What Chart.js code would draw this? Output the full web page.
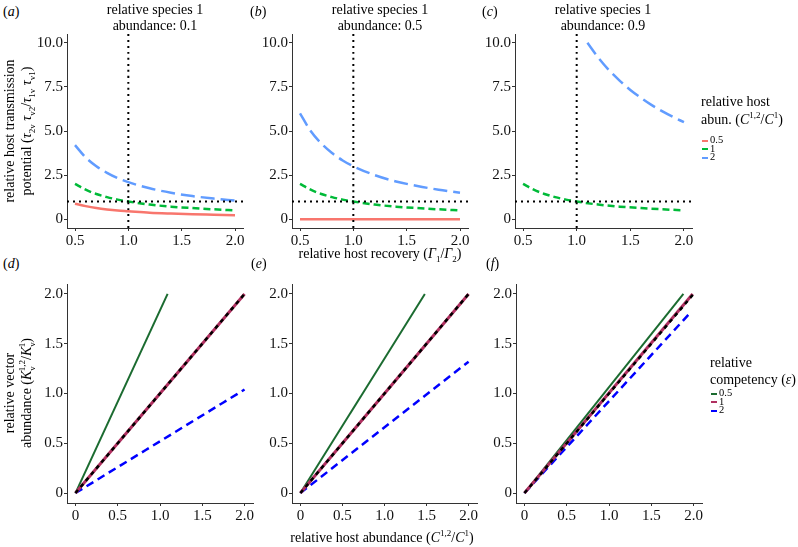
<!DOCTYPE html>
<html>
<head>
<meta charset="utf-8">
<script src="https://cdn.jsdelivr.net/npm/chart.js@4.4.0/dist/chart.umd.min.js"></script>
<style>
body { margin:0; background:#fff; }
#fig { position:relative; width:798px; height:547px; font-family:"Liberation Serif", "DejaVu Serif", serif; color:#000; overflow:hidden; }
#fig canvas { position:absolute; }
.t { position:absolute; white-space:nowrap; font-size:14px; line-height:16px; }
.c { transform:translateX(-50%); text-align:center; }
.rot { transform:translate(-50%,-50%) rotate(-90deg); text-align:center; line-height:17px; }
sub, sup { font-size:9px; line-height:0; }
.lg { position:absolute; white-space:nowrap; font-size:10.5px; line-height:8.5px; }
.key { display:inline-block; width:6px; height:2px; margin-right:2px; vertical-align:middle; }
</style>
</head>
<body>
<div id="fig">
  <canvas id="pa"></canvas><canvas id="pb"></canvas><canvas id="pc"></canvas>
  <canvas id="pd"></canvas><canvas id="pe"></canvas><canvas id="pf"></canvas>

  <div class="t" style="left:3px;top:4px">(<i>a</i>)</div>
  <div class="t" style="left:250px;top:4px">(<i>b</i>)</div>
  <div class="t" style="left:482px;top:4px">(<i>c</i>)</div>
  <div class="t" style="left:3px;top:256px">(<i>d</i>)</div>
  <div class="t" style="left:251px;top:256px">(<i>e</i>)</div>
  <div class="t" style="left:486px;top:256px">(<i>f</i>)</div>

  <div class="t c" style="left:155px;top:2px">relative species 1<br>abundance: 0.1</div>
  <div class="t c" style="left:380px;top:2px">relative species 1<br>abundance: 0.5</div>
  <div class="t c" style="left:603px;top:2px">relative species 1<br>abundance: 0.9</div>

  <div class="t rot" style="left:18px;top:131px">relative host transmission<br>potential (<i>τ</i><sub>2v</sub> <i>τ</i><sub>v2</sub>/<i>τ</i><sub>1v</sub> <i>τ</i><sub>v1</sub>)</div>
  <div class="t rot" style="left:18px;top:393px">relative vector<br>abundance (<i>K</i><sub>v</sub><sup style="margin-left:-5px">1,2</sup>/<i>K</i><sub>v</sub><sup style="margin-left:-5px">1</sup>)</div>

  <div class="t c" style="left:380px;top:246px">relative host recovery (<i>Γ</i><sub>1</sub>/<i>Γ</i><sub>2</sub>)</div>
  <div class="t c" style="left:382px;top:530px">relative host abundance (<i>C</i><sup>1,2</sup>/<i>C</i><sup>1</sup>)</div>

  <div class="t" style="left:701px;top:93px;line-height:18px">relative host<br>abun. (<i>C</i><sup>1,2</sup>/<i>C</i><sup>1</sup>)</div>
  <div class="lg" style="left:702px;top:136px">
    <div><span class="key" style="background:#F8766D"></span>0.5</div>
    <div><span class="key" style="background:#00BA38"></span>1</div>
    <div><span class="key" style="background:#619CFF"></span>2</div>
  </div>
  <div class="t" style="left:710px;top:354px;line-height:17px">relative<br>competency (<i>ε</i>)</div>
  <div class="lg" style="left:711px;top:389px">
    <div><span class="key" style="background:#1B6B30"></span>0.5</div>
    <div><span class="key" style="background:#B03060"></span>1</div>
    <div><span class="key" style="background:#0000FF"></span>2</div>
  </div>
</div>
<script>
// top row: relative host recovery vs transmission potential
const recovery = [0.5, 0.6, 0.7, 0.8, 0.9, 1.0, 1.2, 1.4, 1.6, 1.8, 2.0];
const aLow  = [0.88, 0.74, 0.63, 0.55, 0.49, 0.45, 0.37, 0.32, 0.28, 0.25, 0.22];
const aMid  = [2.0, 1.67, 1.43, 1.25, 1.11, 1.0, 0.83, 0.71, 0.63, 0.56, 0.5];
const aHigh = [4.2, 3.5, 3.0, 2.63, 2.33, 2.1, 1.75, 1.5, 1.31, 1.17, 1.05];
const bLow  = [0, 0, 0, 0, 0, 0, 0, 0, 0, 0, 0];
const bMid  = [2.0, 1.67, 1.43, 1.25, 1.11, 1.0, 0.83, 0.71, 0.63, 0.56, 0.5];
const bHigh = [6.0, 5.0, 4.29, 3.75, 3.33, 3.0, 2.5, 2.14, 1.88, 1.67, 1.5];
const cMid  = [2.0, 1.67, 1.43, 1.25, 1.11, 1.0, 0.83, 0.71, 0.63, 0.56, 0.5];
const cHighX = [1.1, 1.2, 1.3, 1.4, 1.5, 1.6, 1.7, 1.8, 1.9, 2.0];
const cHigh  = [10.0, 9.17, 8.46, 7.86, 7.33, 6.88, 6.47, 6.11, 5.79, 5.5];
const vRefX = [1, 1], vRefY = [-0.5, 10.5];
const hRefX = [0.425, 2.075], hRefY = [1, 1];

// bottom row: host abundance vs vector abundance (line end points)
const dLowX = [0, 1.09], dLowY = [0, 2.0];
const dMidX = [0, 2.0],  dMidY = [0, 2.0];
const dHighX = [0, 2.0], dHighY = [0, 1.04];
const eLowX = [0, 1.48], eLowY = [0, 2.0];
const eMidX = [0, 2.0],  eMidY = [0, 2.0];
const eHighX = [0, 2.0], eHighY = [0, 1.32];
const fLowX = [0, 1.88], fLowY = [0, 2.0];
const fMidX = [0, 1.99], fMidY = [0, 2.0];
const fHighX = [0, 1.96], fHighY = [0, 1.81];
const diagX = [0, 2.0], diagY = [0, 2.0];

const topXTicks = [0.5, 1, 1.5, 2], topXLabels = ['0.5', '1.0', '1.5', '2.0'];
const topYTicks = [0, 2.5, 5, 7.5, 10], topYLabels = ['0', '2.5', '5.0', '7.5', '10.0'];
const botTicks = [0, 0.5, 1, 1.5, 2], botLabels = ['0', '0.5', '1.0', '1.5', '2.0'];

const FONT = "'Liberation Serif', 'Times New Roman', serif";
Chart.defaults.font.family = FONT;

function axis(pos, min, max, ticks, labels, fit) {
  return {
    type: 'linear', position: pos, min: min, max: max,
    afterBuildTicks: s => { s.ticks = ticks.map(v => ({ value: v })); },
    afterFit: fit,
    ticks: { callback: (v, i) => labels[i], font: { family: FONT, size: 15 }, color: '#111', padding: 1, maxRotation: 0, autoSkip: false },
    grid: { drawOnChartArea: false, drawTicks: true, tickLength: 3, color: '#333' },
    border: { display: true, color: '#333', width: 1 }
  };
}

function line(xs, ys, color, width, dash, order) {
  return {
    data: xs.map((x, i) => ({ x: x, y: ys[i] })),
    borderColor: color, borderWidth: width, borderDash: dash, borderCapStyle: 'butt',
    pointRadius: 0, fill: false, showLine: true, cubicInterpolationMode: 'monotone', order: order
  };
}

function panel(id, area, xr, xt, xl, yr, yt, yl, sets) {
  const yW = 45, xH = 24, pT = 10, pR = 16;
  const cv = document.getElementById(id);
  const W = area[2] - area[0] + yW + pR, H = area[3] - area[1] + pT + xH;
  cv.style.left = (area[0] - yW) + 'px';
  cv.style.top = (area[1] - pT) + 'px';
  cv.width = W; cv.height = H;
  cv.style.width = W + 'px'; cv.style.height = H + 'px';
  new Chart(cv, {
    type: 'scatter',
    data: { datasets: sets },
    options: {
      responsive: false, animation: false, events: [],
      layout: { padding: { top: pT, right: pR, left: 0, bottom: 0 } },
      plugins: { legend: { display: false }, tooltip: { enabled: false } },
      scales: {
        x: axis('bottom', xr[0], xr[1], xt, xl, s => { s.height = xH; }),
        y: axis('left', yr[0], yr[1], yt, yl, s => { s.width = yW; })
      }
    }
  });
}

const RED = '#F8766D', GREEN = '#00BA38', BLUE = '#619CFF';
const DG = '#1B6B30', MAR = '#B03060', BL = '#0000FF';
const shortDash = [7, 4], longDash = [14, 6], dotted = [2, 4];

function topSets(low, mid, highX, high) {
  const s = [
    line(vRefX, vRefY, '#000', 2, dotted, 0),
    line(hRefX, hRefY, '#000', 2, dotted, 1),
    line(recovery, mid, GREEN, 2.5, shortDash, 3),
    line(highX, high, BLUE, 2.5, longDash, 4)
  ];
  if (low) s.push(line(recovery, low, RED, 2.5, [], 5));
  return s;
}
function botSets(lx, ly, mx, my, hx, hy) {
  return [
    line(diagX, diagY, '#000', 2.5, [4, 4], 0),
    line(mx, my, MAR, 3, [], 1),
    line(lx, ly, DG, 2, [], 2),
    line(hx, hy, BL, 2.5, [8, 5], 3)
  ];
}

const topX = [0.425, 2.075], topY = [-0.5, 10.5];
const botR = [-0.1, 2.1];

panel('pa', [67, 34, 243, 228], topX, topXTicks, topXLabels, topY, topYTicks, topYLabels, topSets(aLow, aMid, recovery, aHigh));
panel('pb', [292, 34, 468, 228], topX, topXTicks, topXLabels, topY, topYTicks, topYLabels, topSets(bLow, bMid, recovery, bHigh));
panel('pc', [515, 34, 692, 228], topX, topXTicks, topXLabels, topY, topYTicks, topYLabels, topSets(null, cMid, cHighX, cHigh));
panel('pd', [67, 284, 253, 503], botR, botTicks, botLabels, botR, botTicks, botLabels, botSets(dLowX, dLowY, dMidX, dMidY, dHighX, dHighY));
panel('pe', [292, 284, 477, 503], botR, botTicks, botLabels, botR, botTicks, botLabels, botSets(eLowX, eLowY, eMidX, eMidY, eHighX, eHighY));
panel('pf', [516, 284, 702, 503], botR, botTicks, botLabels, botR, botTicks, botLabels, botSets(fLowX, fLowY, fMidX, fMidY, fHighX, fHighY));
</script>
</body>
</html>
